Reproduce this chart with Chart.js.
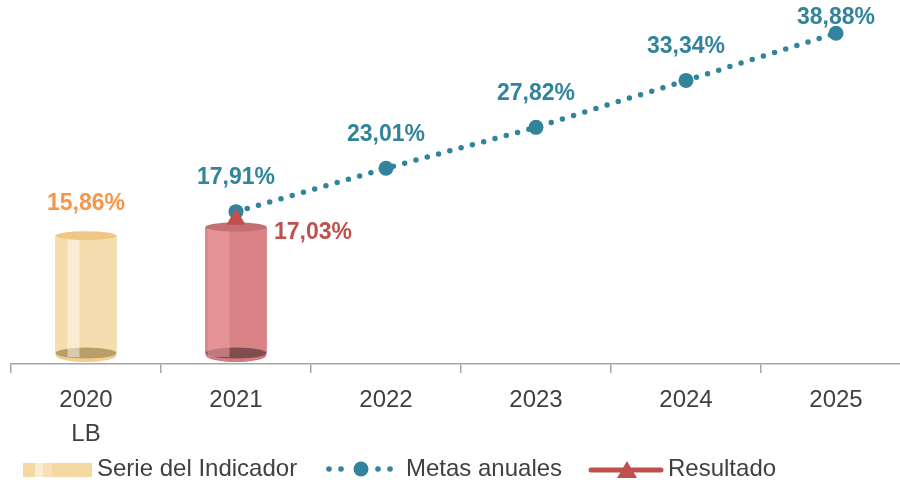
<!DOCTYPE html>
<html>
<head>
<meta charset="utf-8">
<script src="https://cdn.jsdelivr.net/npm/chart.js@4.4.1/dist/chart.umd.min.js"></script>
<style>
html,body{margin:0;padding:0;overflow:hidden;background:#ffffff;width:900px;height:484px;}
#wrap{width:922px;height:484px;}
</style>
</head>
<body>
<div id="wrap"><canvas id="c" width="922" height="484"></canvas></div>
<script>
// ---- data ----
const categories = [['2020', 'LB'], '2021', '2022', '2023', '2024', '2025'];
const serieValues = [15.86, 17.03, null, null, null, null];
const metasValues = [null, 17.91, 23.01, 27.82, 33.34, 38.88];
const resultadoValues = [null, 17.03, null, null, null, null];
const legendNames = ['Serie del Indicador', 'Metas anuales', 'Resultado'];

const TEAL = '#31849B';
const RED = '#C0504D';
const ORANGE = '#F79646';
const FONT = '"Liberation Sans", Arial, sans-serif';

function fmt(v) { return v.toFixed(2).replace('.', ',') + '%'; }

const cylStyles = [
  {body: '#F6DDAF', stripe: 'rgba(255,255,255,0.45)', stripeL: 12, stripeR: 24, top: '#F0C886', bottom: '#B59863', rim: '#F2CF8F'},
  {body: '#D98386', stripe: 'rgba(240,160,162,0.55)', stripeL: 2, stripeR: 24, top: '#C46F72', bottom: '#77474A', rim: '#D27A7D'}
];

const cylinderPlugin = {
  id: 'cylinder',
  afterDatasetDraw(chart, args) {
    if (args.index !== 0) return;
    const ctx = chart.ctx;
    args.meta.data.forEach((bar, i) => {
      if (serieValues[i] == null) return;
      const p = bar.getProps(['x', 'y', 'base', 'width'], true);
      const s = cylStyles[i];
      const l = p.x - p.width / 2, w = p.width;
      ctx.save();
      ctx.fillStyle = s.rim;
      ctx.beginPath();
      ctx.ellipse(p.x, p.base + 2, w / 2, 7, 0, 0, Math.PI * 2);
      ctx.fill();
      ctx.fillStyle = s.body;
      ctx.fillRect(l, p.y, w, p.base - p.y);
      ctx.fillStyle = s.bottom;
      ctx.globalAlpha = 0.9;
      ctx.beginPath();
      ctx.ellipse(p.x, p.base, w / 2, 5.5, 0, 0, Math.PI * 2);
      ctx.fill();
      ctx.globalAlpha = 1;
      ctx.fillStyle = s.stripe;
      ctx.fillRect(l + s.stripeL, p.y, s.stripeR - s.stripeL, p.base - p.y + 4);
      ctx.fillStyle = s.top;
      ctx.beginPath();
      ctx.ellipse(p.x, p.y, w / 2, 4.5, 0, 0, Math.PI * 2);
      ctx.fill();
      ctx.restore();
    });
  }
};

const labelPlugin = {
  id: 'labels',
  afterDatasetsDraw(chart) {
    const ctx = chart.ctx;
    ctx.save();
    ctx.font = 'bold 23px ' + FONT;
    ctx.textAlign = 'center';
    ctx.textBaseline = 'middle';
    const mb = chart.getDatasetMeta(0);
    mb.data.forEach((el, i) => {
      if (serieValues[i] == null || i !== 0) return;
      ctx.fillStyle = ORANGE;
      ctx.fillText(fmt(serieValues[i]), el.x, el.y - 32);
    });
    const mm = chart.getDatasetMeta(1);
    mm.data.forEach((el, i) => {
      if (metasValues[i] == null) return;
      ctx.fillStyle = TEAL;
      ctx.fillText(fmt(metasValues[i]), el.x, Math.max(18, el.y - 34));
    });
    const mr = chart.getDatasetMeta(2);
    mr.data.forEach((el, i) => {
      if (resultadoValues[i] == null) return;
      ctx.fillStyle = RED;
      ctx.fillText(fmt(resultadoValues[i]), el.x + 77, el.y + 14);
    });
    ctx.restore();
  }
};

const legendPlugin = {
  id: 'customLegend',
  afterDraw(chart) {
    const ctx = chart.ctx;
    const cy = 469;
    ctx.save();
    ctx.fillStyle = '#F5D9A3';
    ctx.fillRect(23, 463, 69, 14);
    ctx.fillStyle = 'rgba(255,255,255,0.5)';
    ctx.fillRect(35, 463, 8, 14);
    ctx.fillStyle = 'rgba(255,255,255,0.2)';
    ctx.fillRect(43, 463, 9, 14);
    ctx.fillStyle = TEAL;
    [329, 341, 378, 390].forEach(x => { ctx.beginPath(); ctx.arc(x, cy, 2.8, 0, Math.PI * 2); ctx.fill(); });
    ctx.beginPath(); ctx.arc(361, cy, 7.5, 0, Math.PI * 2); ctx.fill();
    ctx.strokeStyle = RED; ctx.lineWidth = 5; ctx.lineCap = 'round';
    ctx.beginPath(); ctx.moveTo(591, cy + 1); ctx.lineTo(661, cy + 1); ctx.stroke();
    ctx.fillStyle = RED;
    ctx.beginPath(); ctx.moveTo(627, 461); ctx.lineTo(637, 478); ctx.lineTo(617, 478); ctx.closePath(); ctx.fill();
    ctx.fillStyle = '#404040';
    ctx.font = '24px ' + FONT;
    ctx.textAlign = 'left';
    ctx.textBaseline = 'middle';
    ctx.fillText(legendNames[0], 97, cy);
    ctx.fillText(legendNames[1], 406, cy);
    ctx.fillText(legendNames[2], 668, cy);
    ctx.restore();
  }
};

new Chart(document.getElementById('c'), {
  type: 'bar',
  data: {
    labels: categories,
    datasets: [
      {
        type: 'bar', label: legendNames[0], data: serieValues, yAxisID: 'y2',
        backgroundColor: cylStyles.map(s => s.body), borderWidth: 0,
        barThickness: 61, order: 3
      },
      {
        type: 'line', label: legendNames[1], data: metasValues, yAxisID: 'y',
        borderColor: TEAL, borderWidth: 5.5, borderDash: [0, 11.7], borderCapStyle: 'round',
        pointRadius: 7.5, pointBackgroundColor: TEAL, pointBorderWidth: 0,
        spanGaps: false, tension: 0, order: 2
      },
      {
        type: 'line', label: legendNames[2], data: resultadoValues, yAxisID: 'y',
        borderColor: RED, backgroundColor: RED, pointStyle: 'triangle', pointRadius: 11,
        pointBackgroundColor: RED, pointBorderWidth: 0, showLine: false, order: 1
      }
    ]
  },
  options: {
    responsive: false,
    animation: false,
    devicePixelRatio: 1,
    layout: { padding: { left: 11, right: 4, top: 10, bottom: 0 } },
    plugins: { legend: { display: false }, tooltip: { enabled: false } },
    scales: {
      x: {
        offset: true,
        grid: { offset: true, drawOnChartArea: false, drawTicks: true, tickLength: 9, color: '#A6A6A6', lineWidth: 1.5 },
        border: { display: true, color: '#A6A6A6', width: 1.5 },
        ticks: { color: '#404040', font: { family: FONT, size: 24, lineHeight: 1.42 }, padding: 10, maxRotation: 0, autoSkip: false },
        afterFit(scale) { scale.height = 120; }
      },
      y: { display: false, min: 0, max: 41.5 },
      y2: { display: false, min: -1.482, max: 46.22 }
    }
  },
  plugins: [cylinderPlugin, labelPlugin, legendPlugin]
});
</script>
</body>
</html>
